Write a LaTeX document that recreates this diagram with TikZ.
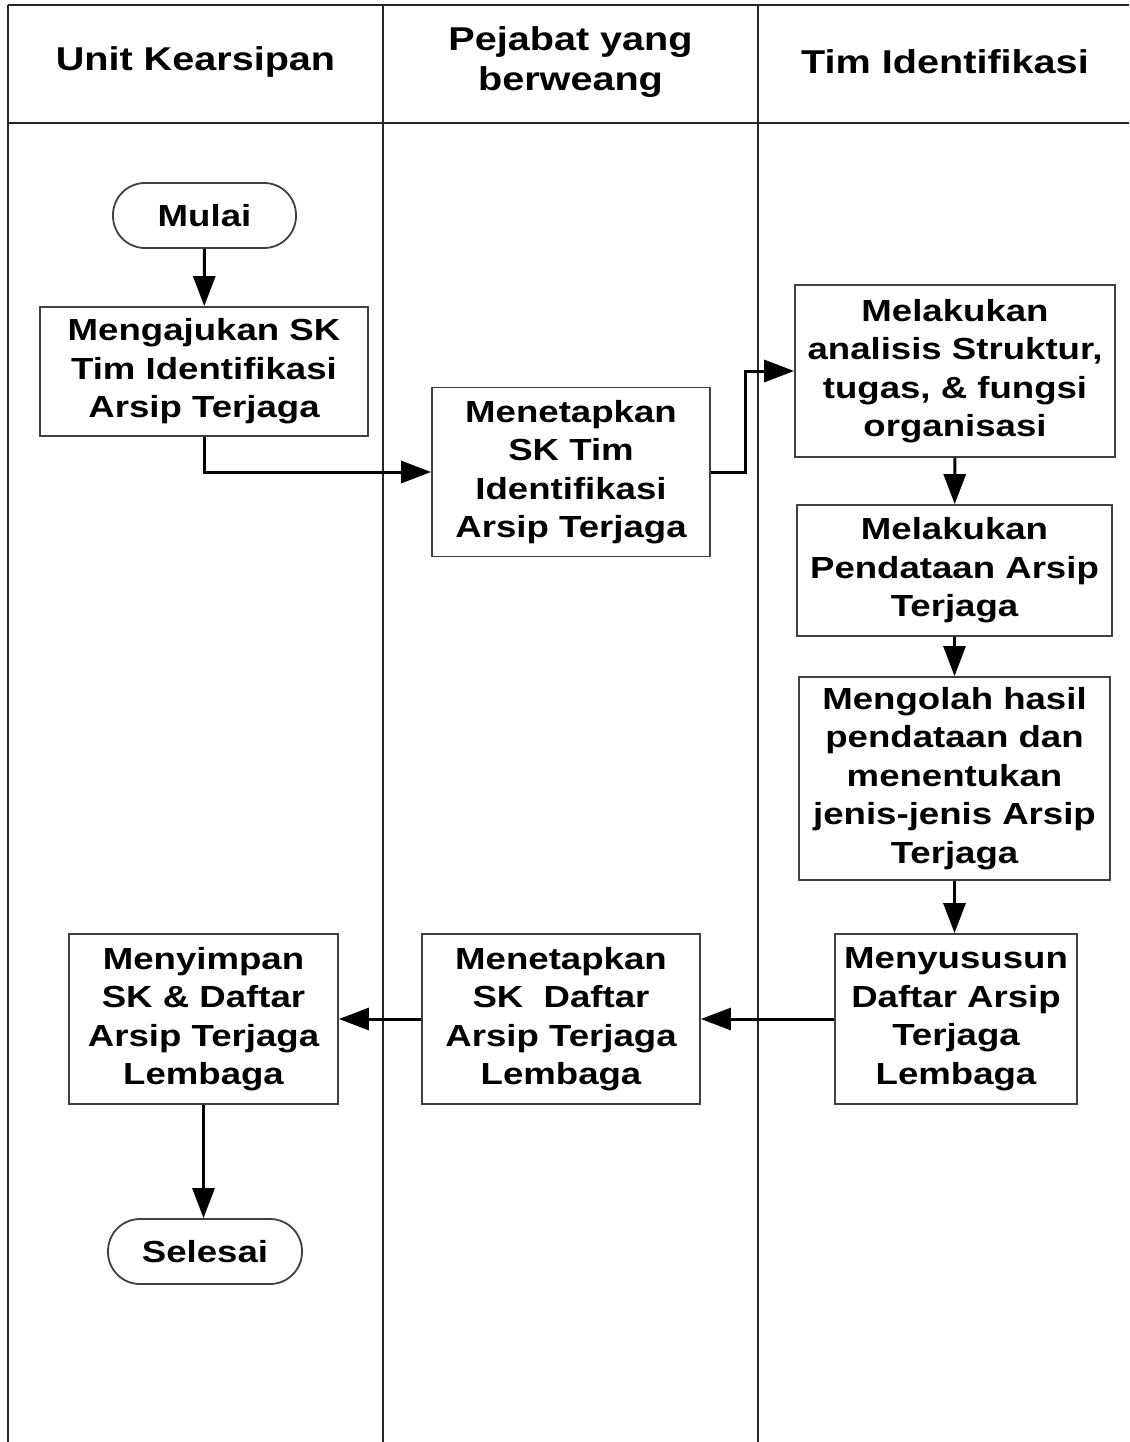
\documentclass[tikz,border=0pt]{standalone}
\usepackage{fontspec}
\newfontfamily\flowfont[FakeStretch=1.2]{Liberation Sans}
\usetikzlibrary{arrows.meta}
\begin{document}
\begin{tikzpicture}[x=1pt,y=-1pt,
  lane/.style={line width=2pt,draw=black!85},
  head/.style={font=\flowfont\bfseries\fontsize{33}{40}\selectfont,align=center,inner sep=0pt},
  procbox/.style={draw=black!75,line width=1.8pt,fill=white,align=center,inner sep=0pt,
    font=\flowfont\bfseries\fontsize{30.5}{38.5}\selectfont},
  termbox/.style={procbox,rounded corners=32pt},
  flow/.style={line width=3pt,-{Triangle[length=30pt,width=22pt]}}]
\useasboundingbox (0,0) rectangle (1129,1442);

% swimlane frame
\draw[lane] (8,5) -- (1129,5);
\draw[lane] (8,123) -- (1129,123);
\draw[lane] (8,5) -- (8,1442);
\draw[lane] (383,5) -- (383,1442);
\draw[lane] (758,5) -- (758,1442);

% lane titles
\node[head] (h1) at (195.5,62) {Unit Kearsipan};
\node[head] (h2) at (570.5,62) {Pejabat yang\\berweang};
\node[head] (h3) at (945,62) {Tim Identifikasi};

% process steps
\node[termbox,minimum width=183pt,minimum height=65pt] (start) at (204.5,215.5) {Mulai};
\node[procbox,minimum width=328pt,minimum height=129pt] (b1) at (204,371.5)
  {Mengajukan SK\\Tim Identifikasi\\Arsip Terjaga};
\node[procbox,minimum width=278pt,minimum height=169pt] (b2) at (571,472)
  {Menetapkan\\SK Tim\\Identifikasi\\Arsip Terjaga};
\node[procbox,minimum width=320pt,minimum height=172pt] (b3) at (955,371)
  {Melakukan\\analisis Struktur,\\tugas, \& fungsi\\organisasi};
\node[procbox,minimum width=315pt,minimum height=131pt] (b4) at (954.5,570.5)
  {Melakukan\\Pendataan Arsip\\Terjaga};
\node[procbox,minimum width=311pt,minimum height=203pt] (b5) at (954.5,778.5)
  {Mengolah hasil\\pendataan dan\\menentukan\\jenis-jenis Arsip\\Terjaga};
\node[procbox,minimum width=242pt,minimum height=170pt] (b6) at (956,1019)
  {Menyususun\\Daftar Arsip\\Terjaga\\Lembaga};
\node[procbox,minimum width=278pt,minimum height=170pt] (b7) at (561,1019)
  {Menetapkan\\SK\ \ Daftar\\Arsip Terjaga\\Lembaga};
\node[procbox,minimum width=269pt,minimum height=170pt] (b8) at (203.5,1019)
  {Menyimpan\\SK \& Daftar\\Arsip Terjaga\\Lembaga};
\node[termbox,minimum width=194pt,minimum height=65pt] (stop) at (205,1251.5) {Selesai};

% connectors
\draw[flow] (start) -- (b1);
\draw[flow] (b1.south) |- (b2.west);
\draw[flow] (b2.east) -- ++(35,0) |- (b3.west);
\draw[flow] (b3) -- (b4);
\draw[flow] (b4) -- (b5);
\draw[flow] (b5.south) -- (b6.north -| b5.south);
\draw[flow] (b6) -- (b7);
\draw[flow] (b7) -- (b8);
\draw[flow] (b8.south) -- (stop.north -| b8.south);
\end{tikzpicture}
\end{document}
